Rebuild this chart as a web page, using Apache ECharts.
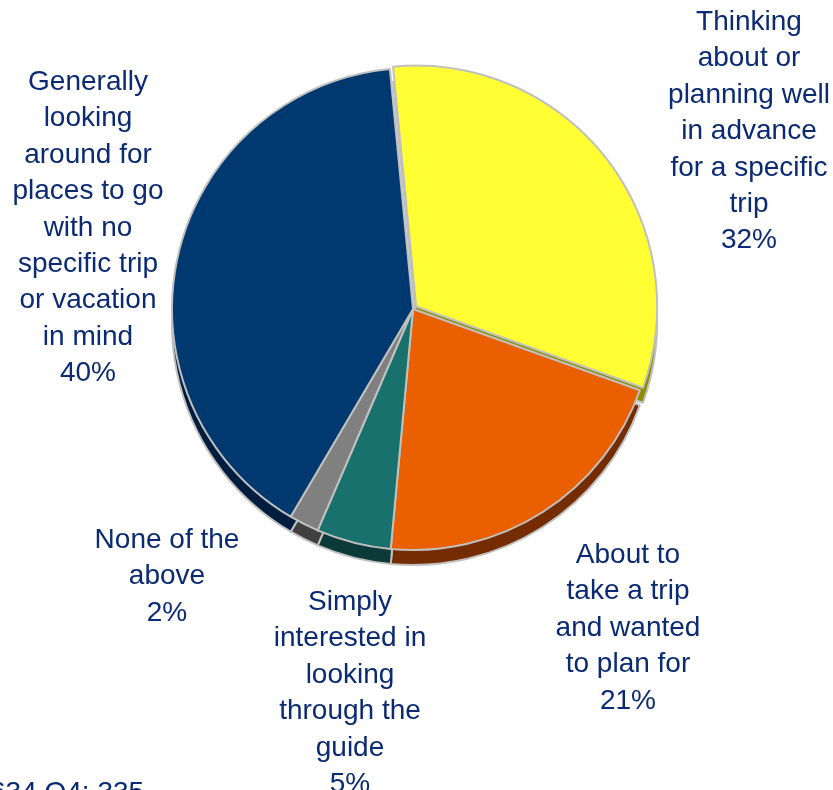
<!DOCTYPE html>
<html>
<head>
<meta charset="utf-8">
<script src="https://cdn.jsdelivr.net/npm/echarts@6/dist/echarts.min.js"></script>
<style>
  html, body { margin: 0; padding: 0; background: #fff; }
  #chart { width: 833px; height: 790px; }
</style>
</head>
<body>
<div id="chart"></div>
<script>
// Reasons for consulting the guide (share of respondents, %)
const categories = [
  'Thinking\nabout or\nplanning well\nin advance\nfor a specific\ntrip',
  'About to\ntake a trip\nand wanted\nto plan for',
  'Simply\ninterested in\nlooking\nthrough the\nguide',
  'None of the\nabove',
  'Generally\nlooking\naround for\nplaces to go\nwith no\nspecific trip\nor vacation\nin mind'
];
const shares = [32, 21, 5, 2, 40];
const baseNote = '634 Q4: 335';

// Slice colours: top face and darker side band
const faceColors = ['#ffff33', '#ea6000', '#18716c', '#808080', '#003870'];
const sideColors = ['#8c8c00', '#742c00', '#0c3a38', '#404040', '#001c3e'];

// Label anchor points (centre x, top y) per slice
const labelAnchors = [
  [749, 4], [628, 537], [350, 584], [167, 522], [88, 64]
];

const textColor = '#0a2a73';
const fontFamily = '"Liberation Sans", Arial, sans-serif';
const center = [413, 309];
const depth = 15;
const radius = 241;

function sliceData(colors) {
  return categories.map((name, i) => ({
    name: name,
    value: shares[i],
    selected: i === 0,
    itemStyle: { color: colors[i] }
  }));
}

function pieSeries(c, colors, z) {
  return {
    type: 'pie',
    z: z,
    center: c,
    radius: radius,
    startAngle: 95.5,
    clockwise: true,
    selectedMode: 'multiple',
    selectedOffset: 4,
    silent: true,
    itemStyle: { borderColor: '#c0c0c0', borderWidth: 2 },
    label: { show: false },
    labelLine: { show: false },
    emphasis: { disabled: true },
    data: sliceData(colors)
  };
}

// Slice labels: category name followed by its share
const labelTexts = categories.map((name, i) => ({
  type: 'text',
  x: labelAnchors[i][0],
  y: labelAnchors[i][1],
  style: {
    text: name + '\n' + shares[i] + '%',
    fill: textColor,
    font: '28px ' + fontFamily,
    lineHeight: 36.4,
    align: 'center',
    verticalAlign: 'top'
  }
}));

const chart = echarts.init(document.getElementById('chart'));
chart.setOption({
  animation: false,
  backgroundColor: '#ffffff',
  series: [
    pieSeries([center[0], center[1] + depth], sideColors, 1),
    pieSeries(center, faceColors, 2)
  ],
  graphic: labelTexts.concat([
    {
      type: 'text',
      x: -10,
      y: 779,
      style: {
        text: baseNote,
        fill: textColor,
        font: '28px ' + fontFamily,
        align: 'left',
        verticalAlign: 'top'
      }
    }
  ])
});
</script>
</body>
</html>
